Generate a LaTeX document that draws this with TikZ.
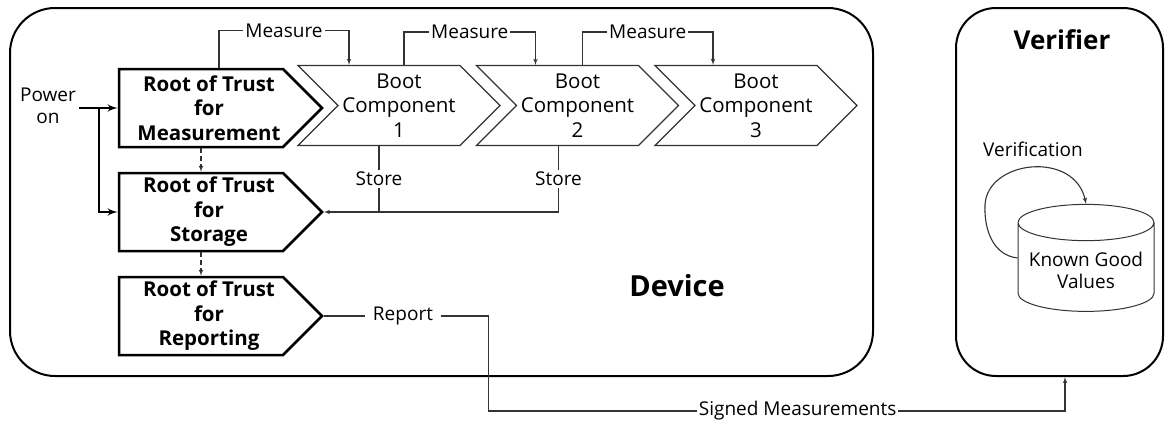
\documentclass[tikz,border=0pt]{standalone}
\usepackage{fontspec}
\setmainfont{Open Sans}
\usepackage{tikz}
\usetikzlibrary{shapes,arrows,positioning,calc}

\newcommand{\lblfont}{\fontsize{19}{22}\selectfont}
\newcommand{\bootfont}{\fontsize{20.5}{24.5}\selectfont}
\newcommand{\rotfont}{\fontsize{20.5}{24.5}\selectfont\bfseries}

\tikzset{
  rotbox/.style={signal, signal to=east, draw, line width=2.5pt, minimum width=203pt,
    minimum height=78pt, inner sep=0pt, align=center, font=\rotfont},
  bootbox/.style={signal, signal to=east, signal from=west, draw=black!80, line width=1.1pt,
    minimum width=202pt, minimum height=80pt, inner sep=0pt, align=center, font=\bootfont},
  panel/.style={draw, rounded corners=45pt, line width=2pt},
  lbl/.style={fill=white, inner sep=2pt, font=\lblfont},
  conn/.style={draw=black!80, line width=1.1pt},
  thickconn/.style={line width=2.5pt},
  chainconn/.style={conn, dash pattern=on 5pt off 3pt},
}

\begin{document}
\begin{tikzpicture}[x=1pt,y=-1pt,>=latex']
\useasboundingbox (0,0) rectangle (1166,421);
% outer panels
\node[panel, minimum width=863pt, minimum height=368pt] (device) at (441.5,192) {};
\node[panel, rounded corners=40pt, minimum width=207pt, minimum height=368pt] (verifier) at (1059.5,192) {};
\node[font=\fontsize{29}{30}\selectfont\bfseries] (devtitle) at (677,286) {Device};
\node[font=\fontsize{26}{30}\selectfont\bfseries] (vertitle) at (1062,40) {Verifier};

% roots of trust
\node[rotbox] (rtm) at (201,108) {\hspace*{16pt}Root of Trust\\\hspace*{16pt}for\\\hspace*{16pt}Measurement};
\node[rotbox] (rts) at (201,212) {\hspace*{16pt}Root of Trust\\\hspace*{16pt}for\\\hspace*{16pt}Storage};
\node[rotbox] (rtr) at (201,316) {\hspace*{16pt}Root of Trust\\\hspace*{16pt}for\\\hspace*{16pt}Reporting};

% boot chain
\node[bootbox] (boot1) at (399,105.5) {Boot\\Component\\1};
\node[bootbox] (boot2) at (577.5,105.5) {Boot\\Component\\2};
\node[bootbox] (boot3) at (756,105.5) {Boot\\Component\\3};

% power on
\node[font=\lblfont, align=center] (power) at (48,106) {Power\\on};
\coordinate (split) at (99,108);
\draw[thickconn,->] (power.east |- rtm.west) -- (rtm.west);
\draw[thickconn,->] (split) |- (rts.west);

% measure
\draw[conn,->] ([xshift=18pt]rtm.north) -- ++(0,-37) -| node[pos=.25,lbl]{Measure} ([xshift=-50pt]boot1.north);
\draw[conn,->] ([xshift=5pt]boot1.north) -- ++(0,-33) -| node[pos=.25,lbl]{Measure} ([xshift=-42pt]boot2.north);
\draw[conn,->] ([xshift=5pt]boot2.north) -- ++(0,-33) -| node[pos=.25,lbl]{Measure} ([xshift=-43pt]boot3.north);

% store
\draw[conn] ([xshift=-20pt]boot1.south) -- node[lbl]{Store} ([xshift=-20pt]boot1.south |- rts.east);
\draw[conn,->] ([xshift=-19pt]boot2.south) -- node[lbl]{Store} ([xshift=-19pt]boot2.south |- rts.east) -- (rts.east);

% chain of roots
\draw[chainconn,->] (rtm.south) -- (rts.north);
\draw[chainconn,->] (rts.south) -- (rtr.north);

% verifier store
\node[cylinder, shape border rotate=90, draw=black!80, line width=1pt, aspect=0.3,
  minimum width=136pt, minimum height=107pt, align=center, font=\lblfont] (kgv) at (1086,270) {Known Good\\Values};
\node[font=\lblfont] (verif) at (1033,149) {Verification};
\draw[conn,->] ([yshift=12pt]kgv.west) .. controls (992,255) and (984,228) .. (985,205)
  .. controls (987,160) and (1075,150) .. (kgv.north);

% report
\draw[conn,->] (rtr.east) -- node[pos=.48,lbl,inner xsep=8pt]{Report} ++(165,0) -- ++(0,95)
  -| node[pos=.268,lbl]{Signed Measurements} ([xshift=5.5pt]verifier.south);
\end{tikzpicture}
\end{document}
